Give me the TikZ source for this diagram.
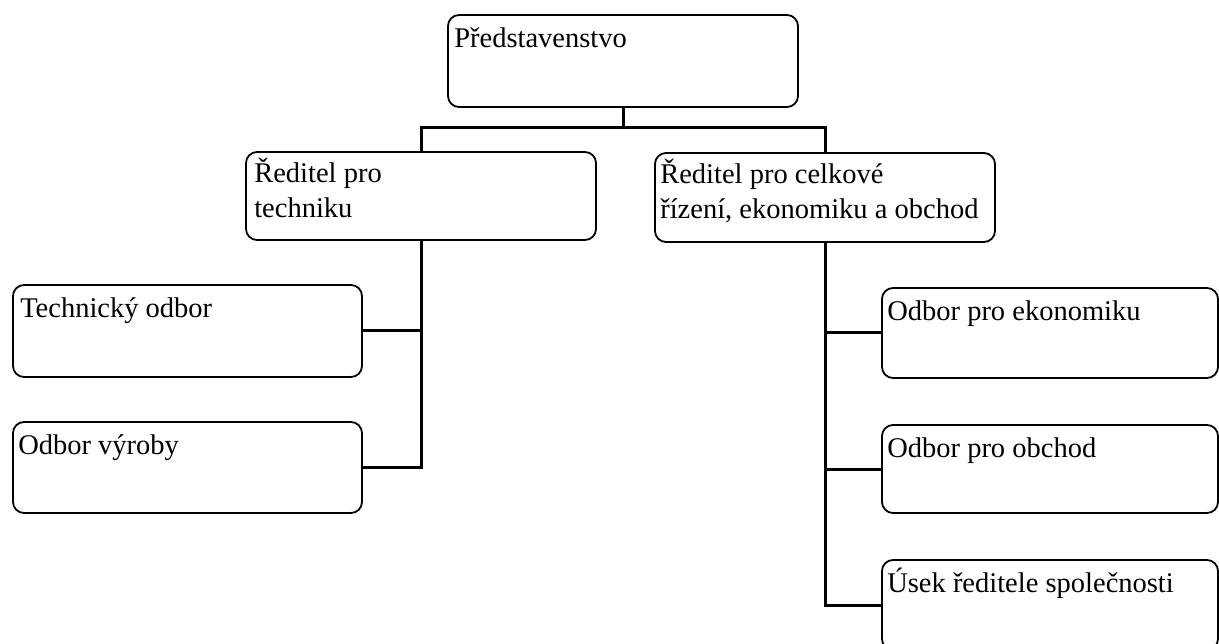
\documentclass[tikz,border=0pt]{standalone}
\usepackage{fontspec}
\setmainfont{Liberation Serif}
\begin{document}
\begin{tikzpicture}[x=1pt,y=-1pt,
  box/.style={draw=black, line width=1.8pt, rounded corners=11pt, rectangle, inner sep=0pt},
  txt/.style={anchor=base west, inner sep=0pt, align=left, font=\fontsize{28.5}{35}\selectfont},
  conn/.style={draw=black, line width=3pt}]
\clip (0,0) rectangle (1219,644);
\fill[white] (0,0) rectangle (1219,644);
% boxes
\node[box, minimum width=350pt, minimum height=92pt] (top) at (623,61) {};
\node[box, minimum width=350pt, minimum height=88pt] (tech) at (421,196) {};
\node[box, minimum width=340pt, minimum height=89pt] (celk) at (825,197.5) {};
\node[box, minimum width=349pt, minimum height=92pt] (tobor) at (187.5,331) {};
\node[box, minimum width=349pt, minimum height=91pt] (vyroby) at (187.5,467.5) {};
\node[box, minimum width=336pt, minimum height=90pt] (ekon) at (1050,333) {};
\node[box, minimum width=336pt, minimum height=88pt] (obchod) at (1050,469) {};
\node[box, minimum width=336pt, minimum height=90pt] (usek) at (1050,605) {};
% texts (base anchor = baseline of the last line)
\node[txt] (ttop) at ([shift={(7,33)}]top.north west) {Představenstvo};
\node[txt] (ttech) at ([shift={(9,66)}]tech.north west) {Ředitel pro\\techniku};
\node[txt] (tcelk) at ([shift={(6,66)}]celk.north west) {Ředitel pro celkové\\řízení, ekonomiku a obchod};
\node[txt] (ttobor) at ([shift={(8,33)}]tobor.north west) {Technický odbor};
\node[txt] (tvyroby) at ([shift={(6,33)}]vyroby.north west) {Odbor výroby};
\node[txt] (tekon) at ([shift={(6,33)}]ekon.north west) {Odbor pro ekonomiku};
\node[txt] (tobchod) at ([shift={(6,33)}]obchod.north west) {Odbor pro obchod};
\node[txt] (tusek) at ([shift={(6,33)}]usek.north west) {Úsek ředitele společnosti};
% connectors
\coordinate (bus) at (623,128);
\draw[conn] (top.south) -- (bus);
\draw[conn] (tech.north) -- (tech.north |- bus) -- (celk.north |- bus) -- (celk.north);
\draw[conn] (tech.south) -- (tech.south |- vyroby.east) -- (vyroby.east);
\draw[conn] (tobor.east) -- (tobor.east -| tech.south);
\draw[conn] (celk.south) -- (celk.south |- usek.west) -- (usek.west);
\draw[conn] (ekon.west) -- (ekon.west -| celk.south);
\draw[conn] (obchod.west) -- (obchod.west -| celk.south);
\end{tikzpicture}
\end{document}
